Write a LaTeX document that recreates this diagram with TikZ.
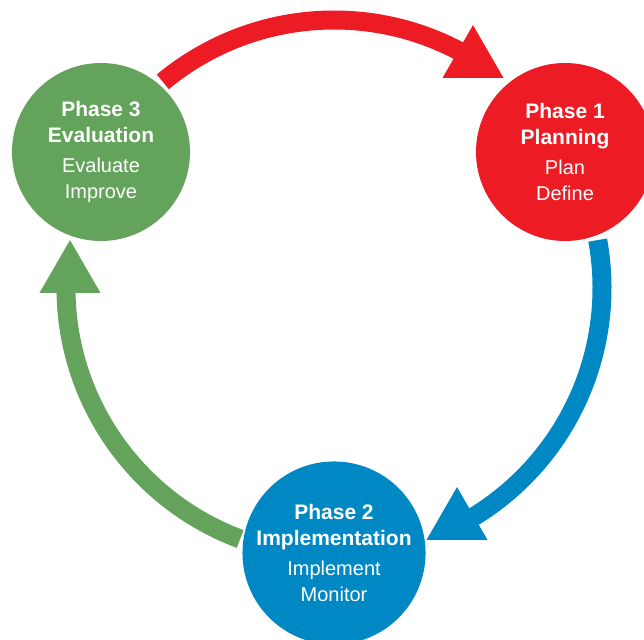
\documentclass[tikz,border=0pt]{standalone}
\usepackage{fontspec}
\setmainfont{Liberation Sans}
\usepackage{tikz}
\usetikzlibrary{shapes.geometric}
\definecolor{phred}{HTML}{ED1C24}
\definecolor{phblue}{HTML}{0088C4}
\definecolor{phgreen}{HTML}{63A35B}
\newcommand{\hd}{\bfseries\fontsize{21}{26}\selectfont}

\begin{document}
\begin{tikzpicture}
[x=1pt,y=1pt,
phase/.style = {circle, minimum size=178pt, inner sep=0pt, text=white, align=center, font=\fontsize{20}{26}\selectfont},
band/.style = {line width=19pt},
tip/.style = {regular polygon, regular polygon sides=3, minimum size=70.4pt, inner sep=0pt, outer sep=0pt},]

\useasboundingbox (0,0) rectangle (644,639);
\def\rr{268}
\coordinate (O) at (334,351);
\path (O) ++(129.7:\rr) coordinate (a3);
\path (O) ++(10.3:\rr) coordinate (a1);
\path (O) ++(249.5:\rr) coordinate (a2);

\draw [band,phred](a3) arc [start angle=129.7, end angle=61, radius=\rr];
\draw [band,phblue](a1) arc [start angle=10.3, end angle=-59, radius=\rr];
\draw [band,phgreen](a2) arc [start angle=249.5, end angle=178, radius=\rr];

\node (T1) at (473,578.7)[tip,fill=phred] {};
\node (T2) at (457,116.7)[tip,fill=phblue] {};
\node (T3) at (70,363.7)[tip,fill=phgreen] {};

\node (P1) at (565,487)[phase,fill=phred] {{\hd Phase 1}\\{\hd Planning}\\[4pt]Plan\\Define};
\node (P2) at (334,86)[phase,fill=phblue] {{\hd Phase 2}\\{\hd Implementation}\\[4pt]Implement\\Monitor};
\node (P3) at (101,487)[phase,fill=phgreen] {{\hd Phase 3}\\{\hd Evaluation}\\[4pt]Evaluate\\Improve};

\end{tikzpicture}
\end{document}
